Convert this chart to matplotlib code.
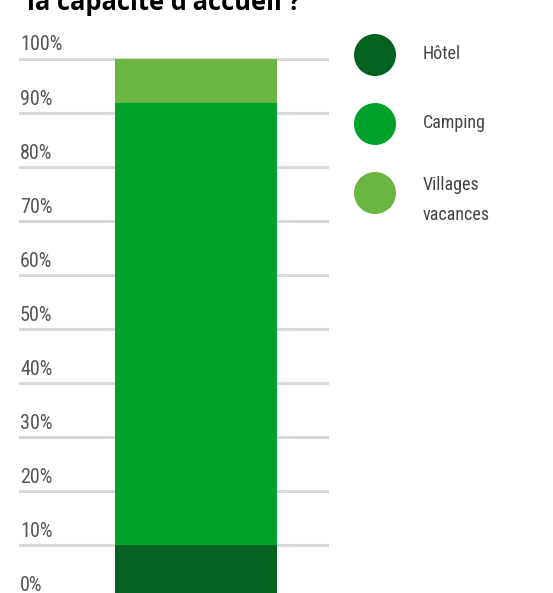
import matplotlib
matplotlib.use("Agg")
import matplotlib.pyplot as plt
from matplotlib.patches import Circle
from matplotlib import font_manager

# ---- data ----
categories = ["Hôtel", "Camping", "Villages\nvacances"]
shares = [10.0, 81.8, 8.2]
colors = ["#03621f", "#00a12a", "#6bb643"]
tick_values = [0, 10, 20, 30, 40, 50, 60, 70, 80, 90, 100]
tick_labels = [f"{v}%" for v in tick_values]
title = "la capacité d'accueil ?"

W, H = 553, 593
fig = plt.figure(figsize=(W / 100, H / 100), dpi=100)

def pick(names):
    avail = {f.name for f in font_manager.fontManager.ttflist}
    for n in names:
        if n in avail:
            return n
    return "DejaVu Sans"

narrow = pick(["Liberation Sans Narrow", "Roboto Condensed", "DejaVu Sans"])

# main axes: x 20..327 px, 100% at 58.5 px, 0% at 599 px (below the image)
x0, x1 = 20, 327
y100, y0 = 58.5, 599
ax = fig.add_axes([x0 / W, (H - y0) / H, (x1 - x0) / W, (y0 - y100) / H])
ax.set_xlim(0, 1)
ax.set_ylim(0, 100)
ax.axis("off")

for v, lab in zip(tick_values, tick_labels):
    ax.axhline(v, color="#d9d9d9", lw=2.2, zorder=1, clip_on=False)
    ax.text(0, v + 2.5, lab, ha="left", va="center", fontsize=14.5,
            color="#555555", family=narrow)

bx0, bx1 = (115 - x0) / (x1 - x0), (277 - x0) / (x1 - x0)
bottom = 0
for val, c in zip(shares, colors):
    ax.bar((bx0 + bx1) / 2, val, width=bx1 - bx0, bottom=bottom, color=c,
           zorder=2, linewidth=0)
    bottom += val

# overlay axes in pixel coords for legend and title
ov = fig.add_axes([0, 0, 1, 1])
ov.set_xlim(0, W)
ov.set_ylim(H, 0)
ov.axis("off")

leg_y = [55, 124, 193]
for cat, c, y in zip(categories, colors, leg_y):
    ov.add_patch(Circle((375, y), 21, color=c, lw=0))
    lines = cat.split("\n")
    if len(lines) == 2:
        ov.text(423, y - 8, lines[0], ha="left", va="center", fontsize=13,
                color="#444444", family=narrow)
        ov.text(423, y + 22, lines[1], ha="left", va="center", fontsize=13,
                color="#444444", family=narrow)
    else:
        ov.text(423, y - 1, lines[0], ha="left", va="center", fontsize=13,
                color="#444444", family=narrow)

ov.text(27, 10, title, ha="left", va="baseline", fontsize=18.4,
        fontweight="bold", color="black", family="Open Sans")

fig.savefig("out.png", dpi=100)
